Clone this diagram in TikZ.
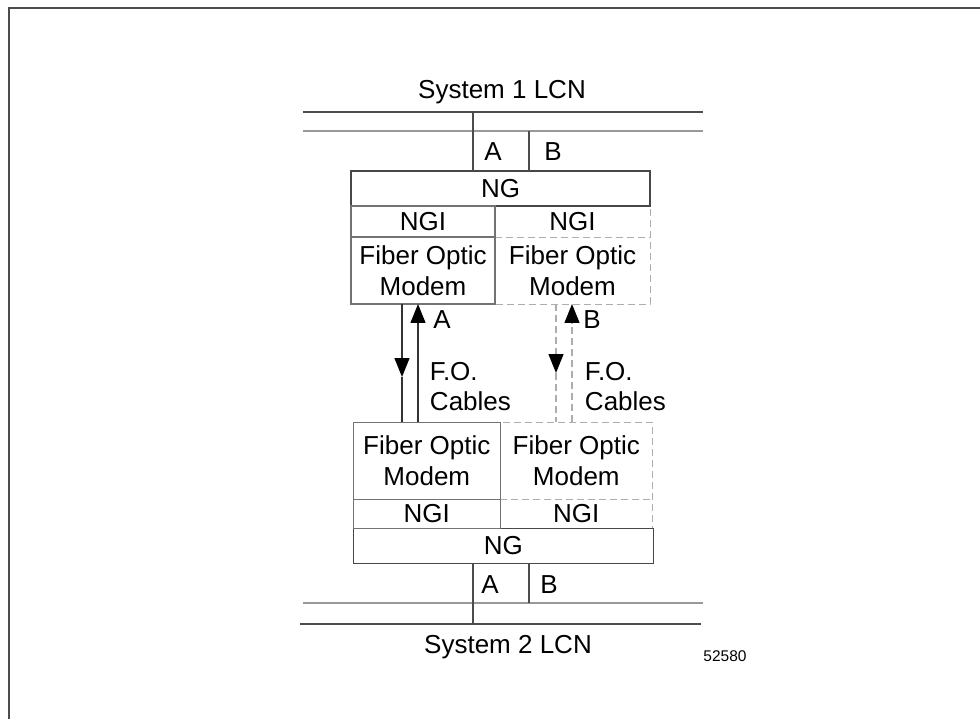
\documentclass[tikz,border=0pt]{standalone}
\usepackage{fontspec}
\setmainfont{Liberation Sans}
\usetikzlibrary{arrows.meta,positioning,backgrounds}

\begin{document}
\begin{tikzpicture}[x=1pt, y=-1pt, line width=1.3pt,
    font=\fontsize{26}{31}\selectfont,
    box/.style={draw=boxColor, inner sep=0pt, outer sep=0pt, align=center},
    ghost/.style={inner sep=0pt, outer sep=0pt, align=center},
    dashline/.style={draw=dashColor, dash pattern=on 7pt off 4pt},
    tip/.style={-{Triangle[width=15pt, length=19pt, black]}}]

% Define Line Colors
\colorlet{frameColor}{black!70}
\colorlet{busColor}{black!70}
\colorlet{busLight}{black!40}
\colorlet{boxColor}{black!55}
\colorlet{ngColor}{black!72}
\colorlet{dashColor}{black!32}

\useasboundingbox (0,0) rectangle (980,719);
\draw[frameColor] (980,8) -- (9,8) -- (9,719);

% --- SYSTEM 1: LCN bus and the gateway stack ---
    \node (lcn1) at (502,92) {System 1 LCN};
    \coordinate (busA1) at (473,112);
    \coordinate (busB1) at (529,131);
    \draw[busColor] (303,112) -- (703,112);
    \draw[busLight] (303,131) -- (703,131);

    \node[box, draw=ngColor, minimum width=299pt, minimum height=35pt] (ng1) at (500.5,188.5) {NG};
    \node[box, anchor=north west, minimum width=144pt, minimum height=31pt] (ngiA1) at (ng1.south west) {NGI};
    \node[ghost, anchor=north west, minimum width=155pt, minimum height=31pt] (ngiB1) at (ngiA1.north east) {NGI};
    \node[box, anchor=north, minimum height=67pt, minimum width=144pt] (fomA1) at (ngiA1.south) {Fiber Optic\\Modem};
    \node[ghost, anchor=north, minimum height=67pt, minimum width=155pt] (fomB1) at (ngiB1.south) {Fiber Optic\\Modem};

    \draw[busColor] (busA1) -- (busA1 |- ng1.north);
    \draw[busColor] (busB1) -- (busB1 |- ng1.north);
    \node at (493,152) {A};
    \node at (553,152) {B};

% --- SYSTEM 2: gateway stack and LCN bus ---
    \node[box, draw=ngColor, minimum width=300pt, minimum height=35pt] (ng2) at (503.3,545.7) {NG};
    \node[box, anchor=south west, minimum width=147pt, minimum height=29pt] (ngiA2) at (ng2.north west) {NGI};
    \node[ghost, anchor=south west, minimum width=152pt, minimum height=29pt] (ngiB2) at (ngiA2.south east) {NGI};
    \node[box, anchor=south, minimum height=77pt, minimum width=147pt] (fomA2) at (ngiA2.north) {Fiber Optic\\Modem};
    \node[ghost, anchor=south, minimum height=77pt, minimum width=152pt] (fomB2) at (ngiB2.north) {Fiber Optic\\Modem};

    \coordinate (busA2) at (473,624);
    \coordinate (busB2) at (529,603);
    \draw[busLight] (303,603) -- (703,603);
    \draw[busColor] (300,624) -- (701,624);
    \draw[busColor] (ng2.south -| busA2) -- (busA2);
    \draw[busColor] (ng2.south -| busB2) -- (busB2);
    \node at (490,585) {A};
    \node at (549,585) {B};
    \node (lcn2) at (508,647) {System 2 LCN};
    \node[font=\fontsize{15.5}{18}\selectfont] (figno) at (725,656) {52580};

% Dashed B side, kept under the solid outlines
    \begin{scope}[on background layer]
    \draw[dashline] (ngiB1.north west) rectangle (fomB1.south east);
    \draw[dashline] (ngiB1.south west) -- (ngiB1.south east);
    \draw[dashline] (fomB2.north west) rectangle (ngiB2.south east);
    \draw[dashline] (fomB2.south west) -- (fomB2.south east);
    \end{scope}

% --- F.O. CABLES ---
    \coordinate (midA) at (402,377);
    \coordinate (upA) at (418,0);
    \draw[black!80, tip] (fomA1.south -| midA) -- (midA);
    \draw[black!80] (midA) -- (fomA2.north -| midA);
    \draw[black!80, tip] (fomA2.north -| upA) -- (fomA1.south -| upA);
    \node at (442,320) {A};
    \node[anchor=west, align=left, font=\fontsize{26}{30}\selectfont] (cableA) at (426,387) {F.O.\\Cables};

    \coordinate (midB) at (556,373);
    \coordinate (upB) at (572,0);
    \draw[dashline, tip] (fomB1.south -| midB) -- (midB);
    \draw[dashline] (midB) -- (fomB2.north -| midB);
    \draw[dashline, tip] (fomB2.north -| upB) -- (fomB1.south -| upB);
    \node at (592,320) {B};
    \node[anchor=west, align=left, font=\fontsize{26}{30}\selectfont] (cableB) at (581,387) {F.O.\\Cables};

\end{tikzpicture}
\end{document}
